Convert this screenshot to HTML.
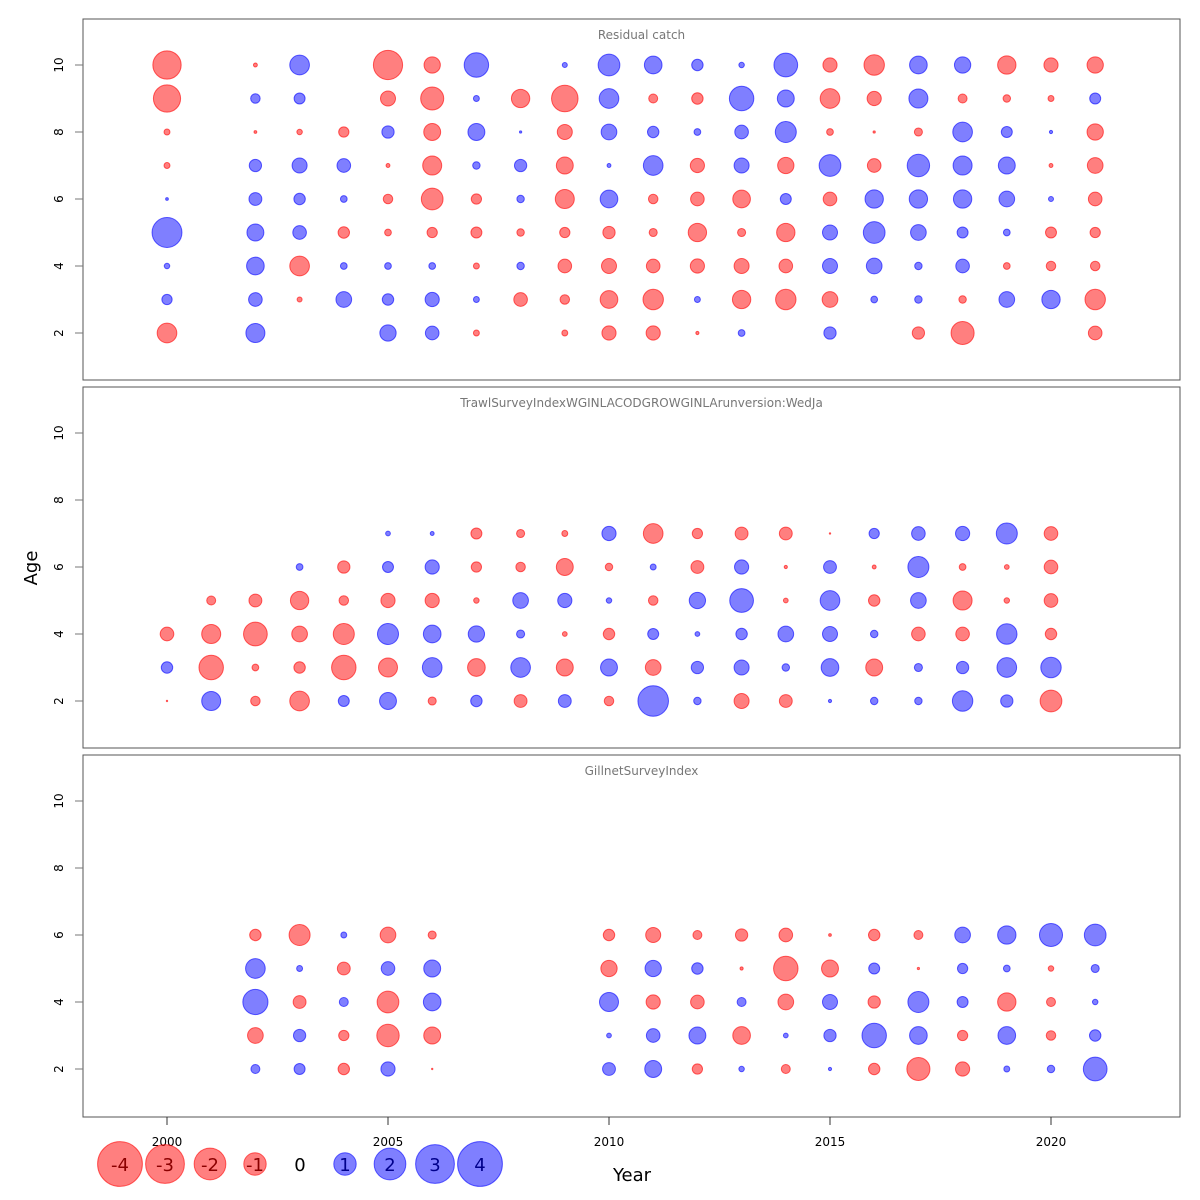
<!DOCTYPE html>
<html><head><meta charset="utf-8">
<style>
html,body{margin:0;padding:0;background:#fff;}
svg{display:block;font-family:"DejaVu Sans","Liberation Sans",sans-serif;}
</style></head>
<body>
<svg id="chart" width="1200" height="1200" viewBox="0 0 1200 1200" xmlns="http://www.w3.org/2000/svg"></svg>
<script>
// ---- data ----
const years = [2000,2001,2002,2003,2004,2005,2006,2007,2008,2009,2010,2011,2012,2013,2014,2015,2016,2017,2018,2019,2020,2021];
const ages = [2,3,4,5,6,7,8,9,10];
const panelTitles = ["Residual catch","TrawlSurveyIndexWGINLACODGROWGINLArunversion:WedJa","GillnetSurveyIndex"];
const yTickLabels = [2,4,6,8,10];
const xTickLabels = [2000,2005,2010,2015,2020];
const legendValues = [-4,-3,-2,-1,0,1,2,3,4];
// residuals per year, ages 2..10 (null = missing)
const catchResid = [
 [-0.77,0.21,0.06,1.78,0.015,-0.07,-0.07,-1.47,-1.6],
 [null,null,null,null,null,null,null,null,null],
 [0.72,0.37,0.62,0.57,0.33,0.3,-0.015,0.18,-0.03],
 [null,-0.05,-0.77,0.37,0.26,0.45,-0.06,0.24,0.77],
 [null,0.49,0.09,-0.26,0.09,0.37,-0.21,null,null],
 [0.53,0.26,0.09,-0.09,-0.18,-0.03,0.3,-0.45,-1.7],
 [0.37,0.4,0.09,-0.21,-0.94,-0.72,-0.57,-1.06,-0.53],
 [-0.07,0.07,-0.07,-0.24,-0.21,0.11,0.57,0.07,1.19],
 [null,-0.37,0.11,-0.11,0.11,0.3,0.01,-0.67,null],
 [-0.07,-0.18,-0.37,-0.21,-0.72,-0.57,-0.45,-1.4,0.05],
 [-0.4,-0.62,-0.45,-0.3,0.62,0.03,0.49,0.77,0.94],
 [-0.4,-0.83,-0.37,-0.13,-0.18,0.77,0.26,-0.16,0.62],
 [-0.02,0.07,-0.4,-0.67,-0.37,-0.4,0.09,-0.26,0.26],
 [0.09,-0.67,-0.45,-0.13,-0.62,0.45,0.37,1.19,0.06],
 [null,-0.83,-0.37,-0.67,0.24,-0.53,0.88,0.57,1.12],
 [0.3,-0.49,0.45,0.45,-0.37,0.94,-0.09,-0.77,-0.4],
 [null,0.09,0.49,0.94,0.67,-0.37,-0.01,-0.4,-0.83],
 [-0.3,0.11,0.11,0.49,0.67,1.0,-0.13,0.72,0.62],
 [-1.06,-0.11,0.37,0.24,0.67,0.72,0.77,-0.16,0.53],
 [null,0.49,-0.09,0.09,0.49,0.57,0.24,-0.11,-0.67],
 [null,0.67,-0.18,-0.24,0.05,-0.03,0.02,-0.07,-0.4],
 [-0.37,-0.83,-0.18,-0.21,-0.37,-0.49,-0.53,0.24,-0.53]
];
const trawlResid = [
 [-0.004,0.26,-0.37,null,null,null],
 [0.72,-1.19,-0.72,-0.16,null,null],
 [-0.18,-0.09,-1.12,-0.33,null,null],
 [-0.77,-0.26,-0.49,-0.67,0.09,null],
 [0.24,-1.19,-0.88,-0.18,-0.3,null],
 [0.57,-0.72,0.88,-0.4,0.24,0.045],
 [-0.13,0.77,0.62,-0.4,0.4,0.03],
 [0.26,-0.62,0.53,-0.06,-0.21,-0.24],
 [-0.33,0.77,0.13,0.49,-0.18,-0.13],
 [0.33,-0.57,-0.045,0.4,-0.57,-0.07],
 [-0.18,0.57,-0.26,0.06,-0.11,0.4],
 [1.86,-0.49,0.24,-0.18,0.07,-0.77],
 [0.11,0.3,0.045,0.53,-0.33,-0.21],
 [-0.45,0.45,0.26,1.12,0.4,-0.33],
 [-0.33,0.11,0.49,-0.045,-0.02,-0.33],
 [0.02,0.62,0.45,0.77,0.33,-0.004],
 [0.11,-0.57,0.11,-0.26,-0.03,0.21],
 [0.11,0.13,-0.37,0.49,0.88,0.37],
 [0.83,0.3,-0.37,-0.72,-0.09,0.4],
 [0.3,0.77,0.83,-0.06,-0.045,0.88],
 [-0.94,0.83,-0.26,-0.37,-0.37,-0.37],
 [null,null,null,null,null,null]
];
const gillnetResid = [
 [null,null,null,null,null],
 [null,null,null,null,null],
 [0.16,-0.49,1.26,0.77,-0.26],
 [0.24,0.3,-0.33,0.07,-0.88],
 [-0.26,-0.21,0.16,-0.33,0.07],
 [0.4,-1.0,-0.94,0.37,-0.49],
 [-0.004,-0.57,0.62,0.57,-0.13],
 [null,null,null,null,null],
 [null,null,null,null,null],
 [null,null,null,null,null],
 [0.33,0.045,0.72,-0.53,-0.26],
 [0.57,0.37,-0.4,0.53,-0.45],
 [-0.21,0.57,-0.37,0.26,-0.16],
 [0.06,-0.62,0.16,-0.02,-0.3],
 [-0.16,0.045,-0.49,-1.19,-0.37],
 [0.02,0.3,0.45,-0.57,-0.015],
 [-0.26,1.19,-0.3,0.24,-0.26],
 [-1.06,0.62,0.88,-0.01,-0.16],
 [-0.4,-0.21,0.24,0.21,0.49],
 [0.07,0.62,-0.67,0.09,0.67],
 [0.11,-0.18,-0.16,-0.06,1.06],
 [1.12,0.26,0.06,0.13,0.94]
];
const panelData = [catchResid, trawlResid, gillnetResid];

// ---- layout ----
const NS = "http://www.w3.org/2000/svg";
const svg = document.getElementById('chart');
const X0 = 83, X1 = 1180;
const panels = [{top:19,bottom:380},{top:387,bottom:748},{top:755,bottom:1117}];
const xScale = y => 167 + (y - 2000) * 44.2;
function yScaleFor(p){ const age10 = p.top + 46, age2 = p.top + 314; return a => age2 + (a - 2) * (age10 - age2) / 8; }
const rScale = v => 11.2 * Math.sqrt(Math.abs(v));
const RED_FILL = "rgba(255,0,0,0.5)", RED_STROKE = "rgba(255,0,0,0.6)";
const BLUE_FILL = "rgba(0,0,255,0.5)", BLUE_STROKE = "rgba(0,0,255,0.6)";

function mk(tag, attrs){ const e = document.createElementNS(NS, tag); for (const k in attrs) e.setAttribute(k, attrs[k]); return e; }

panels.forEach((p, pi) => {
  const g = mk('g', {});
  
  
  svg.appendChild(g);
  const frame = mk('rect', {x:X0, y:p.top, width:X1-X0, height:p.bottom-p.top, fill:'none', stroke:'#555', 'stroke-width':1});
  
  
  g.appendChild(frame);
  const title = mk('text', {x:(X0+X1)/2 + 10, y:p.top + 20, 'text-anchor':'middle', 'font-size':12, fill:'#777'});
  title.textContent = panelTitles[pi];
  
  
  g.appendChild(title);
  const ys = yScaleFor(p);
  yTickLabels.forEach(t => {
    const yy = ys(t);
    const tick = mk('line', {x1:X0-8, x2:X0, y1:yy, y2:yy, stroke:'#777', 'stroke-width':1});
    
    
    g.appendChild(tick);
    const lab = mk('text', {x:0, y:0, transform:`translate(63,${yy}) rotate(-90)`, 'text-anchor':'middle', 'font-size':12, fill:'#000'});
    lab.textContent = t;
    
    
    g.appendChild(lab);
  });
  const data = panelData[pi];
  years.forEach((yr, yi) => {
    const row = data[yi];
    row.forEach((v, ai) => {
      if (v === null || v === undefined) return;
      const c = mk('circle', {cx:xScale(yr), cy:ys(ages[ai]), r:rScale(v),
        fill: v < 0 ? RED_FILL : BLUE_FILL, stroke: v < 0 ? RED_STROKE : BLUE_STROKE, 'stroke-width':1});
      
      
      g.appendChild(c);
    });
  });
});

// x ticks on bottom panel
const pb = panels[2];
xTickLabels.forEach(t => {
  const xx = xScale(t);
  const tick = mk('line', {x1:xx, x2:xx, y1:pb.bottom, y2:pb.bottom+8, stroke:'#333', 'stroke-width':1});
  
  
  svg.appendChild(tick);
  const lab = mk('text', {x:xx, y:1146, 'text-anchor':'middle', 'font-size':12, fill:'#000'});
  lab.textContent = t;
  
  
  svg.appendChild(lab);
});

// axis titles
const yt = mk('text', {x:0, y:0, transform:'translate(37,568) rotate(-90)', 'text-anchor':'middle', 'font-size':18, fill:'#000'});
yt.textContent = 'Age';


svg.appendChild(yt);
const xt = mk('text', {x:632, y:1181, 'text-anchor':'middle', 'font-size':18, fill:'#000'});
xt.textContent = 'Year';


svg.appendChild(xt);

// legend
legendValues.forEach((v, i) => {
  const cx = 120 + i * 45, cy = 1164;
  if (v !== 0) {
    const c = mk('circle', {cx, cy, r:rScale(v), fill: v < 0 ? RED_FILL : BLUE_FILL, stroke: v < 0 ? RED_STROKE : BLUE_STROKE});
    
    
    svg.appendChild(c);
  }
  const t = mk('text', {x:cx, y:cy + 7, 'text-anchor':'middle', 'font-size':18, fill: v < 0 ? '#8b0000' : (v > 0 ? '#00008b' : '#000')});
  t.textContent = v;
  
  
  svg.appendChild(t);
});
</script>
</body></html>
